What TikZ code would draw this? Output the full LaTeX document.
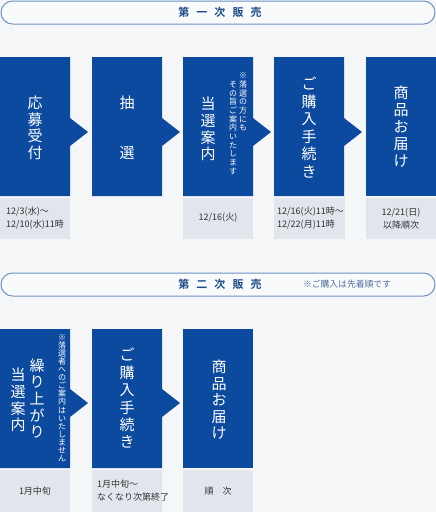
\documentclass[tikz,border=0pt]{standalone}
\usepackage{fontspec}
\setmainfont{Noto Sans CJK JP}[BoldFont={Noto Sans CJK JP Bold}]
\usepackage{tikz}
\usetikzlibrary{positioning}
\usepackage{xcolor}
\definecolor{pagebg}{HTML}{F5F6F8}
\definecolor{stepblue}{HTML}{0B4A9F}
\definecolor{datebg}{HTML}{E1E6ED}
\definecolor{datefg}{HTML}{333333}
\definecolor{pillline}{HTML}{6E92C4}
\definecolor{pillbg}{HTML}{F9FAFB}
\definecolor{titleblue}{HTML}{1F4E8C}
\definecolor{notegray}{HTML}{4F6E9E}

\begin{document}
\begin{tikzpicture}[x=1pt, y=-1pt,
    stepbox/.style={fill=stepblue},
    datebox/.style={fill=datebg},
    pill/.style={draw=pillline, line width=1pt, fill=pillbg, rounded corners=11.5pt},
    title/.style={text=titleblue, inner sep=0pt, font=\fontsize{11}{11}\selectfont\bfseries},
    steptext/.style={text=white, align=center, inner sep=0pt},
    big/.style={steptext, font=\fontsize{15}{#1}\selectfont},
    small/.style={steptext, anchor=north, font=\fontsize{8}{#1}\selectfont},
    datetext/.style={text=datefg, inner sep=0pt, font=\fontsize{9}{13}\selectfont}]
    % 背景
    \fill[pagebg] (0,0) rectangle (436,512);
    \useasboundingbox (0,0) rectangle (436,512);

    % 第一次販売
    \draw[pill] (1,1) rectangle (435,24);
    \node[title] (first) at (220,12.5) {第\hspace{0.64em}一\hspace{0.64em}次\hspace{0.64em}販\hspace{0.64em}売};

    \foreach \x in {0,92,183,274}
        \fill[stepbox] (\x,57) -- ++(70,0) -- ++(0,61) -- ++(18,14) -- ++(-18,14) -- (\x+70,196) -- (\x,196) -- cycle;
    \fill[stepbox] (366,57) rectangle (436,196);

    \fill[datebox] (0,198) rectangle (70,239);
    \fill[datebox] (183,198) rectangle (253,239);
    \fill[datebox] (274,198) rectangle (345,239);
    \fill[datebox] (366,198) rectangle (436,239);

    \node[big=16.5] (oubo) at (35,128) {応\\募\\受\\付};
    \node[big=16.5] (chusen) at (127,128) {抽\\[33.5pt]選};
    \node[big=16.8] (tosen) at (208,129) {当\\選\\案\\内};
    \node[small=8.7] (noteA) at (243,72.5) {※\\落\\選\\の\\方\\に\\も};
    \node[small=8.7] (noteB) at (233,81) {そ\\の\\旨\\ご\\案\\内\\い\\た\\し\\ま\\す};
    \node[big=17.6] (konyu) at (309,127.5) {ご\\購\\入\\手\\続\\き};
    \node[big=17] (todoke) at (401,127) {商\\品\\お\\届\\け};

    \node[datetext, align=left, anchor=west] (dateA) at (6,218.5) {12/3(水)～\\12/10(水)11時};
    \node[datetext] (dateB) at (218,218) {12/16(火)};
    \node[datetext, align=left, anchor=west] (dateC) at (277,218.5) {12/16(火)11時～\\12/22(月)11時};
    \node[datetext, align=center] (dateD) at (401,218.5) {12/21(日)\\以降順次};

    % 第二次販売
    \draw[pill] (1,273) rectangle (435,296);
    \node[title] (second) at (220,284.5) {第\hspace{0.64em}二\hspace{0.64em}次\hspace{0.64em}販\hspace{0.64em}売};
    \node[text=notegray, inner sep=0pt, font=\fontsize{8.8}{8.8}\selectfont] (order) at (347,284.5) {※ご購入は先着順です};

    \foreach \x in {0,92}
        \fill[stepbox] (\x,329) -- ++(70,0) -- ++(0,60) -- ++(18,14) -- ++(-18,14) -- (\x+70,468) -- (\x,468) -- cycle;
    \fill[stepbox] (183,329) rectangle (253,468);

    \fill[datebox] (0,470) rectangle (70,512);
    \fill[datebox] (92,470) rectangle (162,512);
    \fill[datebox] (183,470) rectangle (253,512);

    \node[big=16.7] (kuri) at (37,398.5) {繰\\り\\上\\が\\り};
    \node[big=16.7] (tosen2) at (18,400) {当\\選\\案\\内};
    \node[small=8.1] (noteC) at (62,334) {※\\落\\選\\者\\へ\\の\\ご\\案\\内\\は\\い\\た\\し\\ま\\せ\\ん};
    \node[big=17.4] (konyu2) at (127,398.5) {ご\\購\\入\\手\\続\\き};
    \node[big=16.5] (todoke2) at (219,400) {商\\品\\お\\届\\け};

    \node[datetext] (dateE) at (35,491) {1月中旬};
    \node[datetext, align=left, anchor=west] (dateF) at (97,490.5) {1月中旬～\\なくなり次第終了};
    \node[datetext] (dateG) at (218,491) {順　次};
\end{tikzpicture}
\end{document}
